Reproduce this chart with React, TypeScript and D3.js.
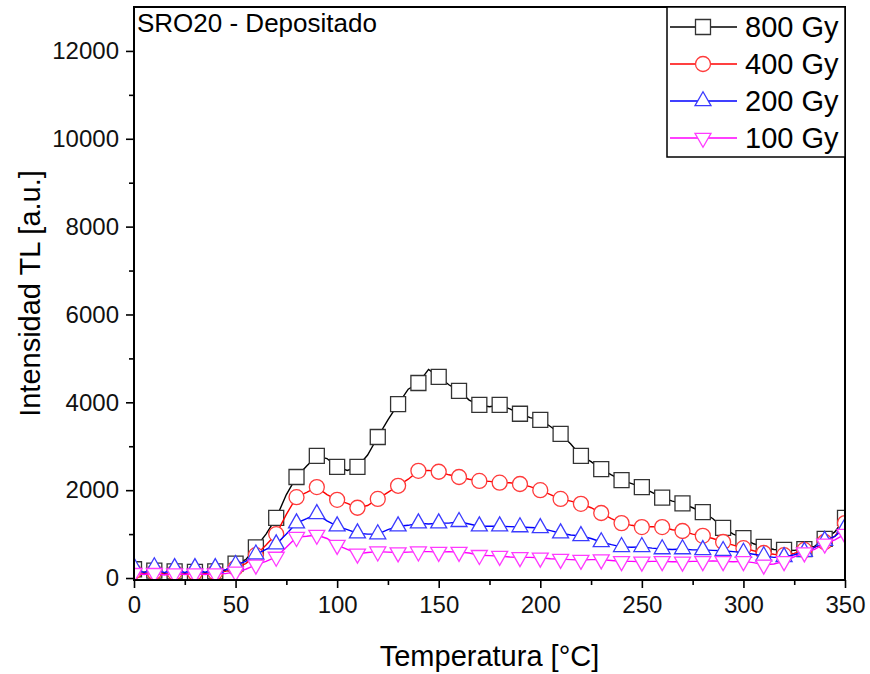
import React, { useRef, useEffect } from "react";
import * as d3 from "d3";

// temperature grid (°C), read every 5 degrees
const temps = [
  0, 5, 10, 15, 20, 25, 30, 35, 40, 45, 50, 55, 60, 65, 70, 75, 80, 85, 90, 95,
  100, 105, 110, 115, 120, 125, 130, 135, 140, 145, 150, 155, 160, 165, 170,
  175, 180, 185, 190, 195, 200, 205, 210, 215, 220, 225, 230, 235, 240, 245,
  250, 255, 260, 265, 270, 275, 280, 285, 290, 295, 300, 305, 310, 315, 320,
  325, 330, 335, 340, 345, 350,
];

const gy800 = [
  200, 130, 170, 110, 150, 110, 140, 120, 150, 180, 330, 420, 700, 1000, 1370,
  1900, 2300, 2550, 2780, 2720, 2530, 2450, 2530, 2800, 3210, 3600, 3960, 4300,
  4440, 4750, 4580, 4400, 4260, 4050, 3940, 3900, 3940, 3850, 3740, 3650, 3600,
  3450, 3280, 3050, 2780, 2650, 2480, 2350, 2230, 2150, 2070, 1950, 1830, 1750,
  1700, 1600, 1500, 1350, 1140, 1000, 910, 780, 710, 650, 640, 630, 660, 720,
  890, 1050, 1370,
];

const gy400 = [
  150, 100, 140, 90, 130, 90, 120, 100, 130, 150, 230, 330, 520, 750, 1000,
  1450, 1840, 1950, 2070, 1900, 1780, 1700, 1600, 1650, 1800, 1950, 2100, 2250,
  2440, 2450, 2420, 2350, 2300, 2250, 2210, 2200, 2170, 2170, 2140, 2080, 2000,
  1900, 1800, 1750, 1690, 1600, 1480, 1350, 1250, 1200, 1160, 1170, 1160, 1100,
  1070, 1000, 960, 900, 820, 750, 680, 620, 570, 540, 520, 560, 640, 700, 820,
  950, 1250,
];

const gy200 = [
  250, 120, 250, 120, 230, 120, 230, 130, 230, 180, 300, 380, 540, 650, 770,
  1000, 1250, 1350, 1460, 1300, 1180, 1100, 1020, 1000, 1000, 1100, 1180, 1200,
  1250, 1230, 1250, 1250, 1280, 1230, 1180, 1180, 1180, 1170, 1160, 1150, 1140,
  1080, 1020, 980, 960, 900, 820, 760, 710, 700, 710, 680, 660, 650, 660, 640,
  640, 630, 620, 600, 580, 540, 500, 470, 480, 530, 600, 700, 850, 950, 1150,
];

const gy100 = [
  110, 80, 110, 70, 100, 80, 100, 80, 100, 100, 140, 200, 300, 380, 480, 700,
  930, 950, 980, 900, 750, 650, 550, 580, 600, 590, 580, 590, 600, 600, 590,
  600, 590, 570, 520, 510, 500, 480, 470, 470, 460, 440, 430, 420, 410, 420,
  420, 400, 380, 380, 370, 380, 380, 370, 370, 380, 380, 390, 380, 370, 380,
  350, 300, 320, 380, 480, 580, 650, 780, 870, 1000,
];

const seriesNames = ["800 Gy", "400 Gy", "200 Gy", "100 Gy"];
const seriesValues = [gy800, gy400, gy200, gy100];
const lineColors = ["#000000", "#ff0000", "#0000ff", "#ff00ff"];
const markColors = ["#333333", "#ff3b3b", "#3b3bff", "#ff3bff"];
const markShapes = ["square", "circle", "up", "down"];

const xTicks = [0, 50, 100, 150, 200, 250, 300, 350];
const yTicks = [0, 2000, 4000, 6000, 8000, 10000, 12000];

const markerPath = (shape: string) => {
  if (shape === "square") return "M-7.5,-7.5H7.5V7.5H-7.5Z";
  if (shape === "circle") return d3.symbol(d3.symbolCircle, Math.PI * 7.5 * 7.5)()!;
  if (shape === "up") return "M0,-9.3L8,4.7L-8,4.7Z";
  return "M0,9.3L8,-4.7L-8,-4.7Z";
};

const App = () => {
  const svgRef = useRef<SVGSVGElement>(null);

  useEffect(() => {
    const svg = d3.select(svgRef.current);
    svg.selectAll("*").remove();

    const width = 870;
    const height = 674;
    const margin = { top: 7, right: 25, bottom: 94, left: 134 };

    const x = d3
      .scaleLinear()
      .domain([0, 350])
      .range([margin.left, width - margin.right]);

    const y = d3
      .scaleLinear()
      .domain([-45, 13000])
      .range([height - margin.bottom, margin.top]);

    const font = "Arial, 'Liberation Sans', sans-serif";

    svg
      .append("rect")
      .attr("width", width)
      .attr("height", height)
      .attr("fill", "white");

    svg
      .append("clipPath")
      .attr("id", "plot-clip")
      .append("rect")
      .attr("x", margin.left)
      .attr("y", margin.top)
      .attr("width", width - margin.left - margin.right)
      .attr("height", height - margin.top - margin.bottom);

    const plot = svg.append("g").attr("clip-path", "url(#plot-clip)");

    // series: line first, then hollow markers every 10 degrees
    seriesValues.forEach((vals, s) => {
      const pts = temps.map((t, i) => ({ t, v: vals[i] }));
      plot
        .append("path")
        .datum(pts)
        .attr("fill", "none")
        .attr("stroke", lineColors[s])
        .attr("stroke-width", 1.4)
        .attr(
          "d",
          d3
            .line<{ t: number; v: number }>()
            .x((d) => x(d.t))
            .y((d) => y(d.v))
        );

      plot
        .selectAll(null)
        .data(pts.filter((d) => d.t % 10 === 0))
        .join("path")
        .attr("transform", (d) => `translate(${x(d.t)},${y(d.v)})`)
        .attr("d", markerPath(markShapes[s]))
        .attr("fill", "white")
        .attr("stroke", markColors[s])
        .attr("stroke-width", 1.3);
    });

    // frame
    svg
      .append("rect")
      .attr("x", margin.left)
      .attr("y", margin.top)
      .attr("width", width - margin.left - margin.right)
      .attr("height", height - margin.top - margin.bottom)
      .attr("fill", "none")
      .attr("stroke", "black")
      .attr("stroke-width", 2);

    // x axis
    const xMinor = svg
      .append("g")
      .attr("transform", `translate(0,${height - margin.bottom})`)
      .call(
        d3
          .axisBottom(x)
          .tickValues(d3.range(25, 350, 50))
          .tickSize(5)
          .tickFormat(() => "")
      );
    xMinor.select(".domain").remove();
    const xMajor = svg
      .append("g")
      .attr("transform", `translate(0,${height - margin.bottom})`)
      .call(d3.axisBottom(x).tickValues(xTicks).tickSize(8).tickPadding(8));
    xMajor.select(".domain").remove();

    // y axis
    const yMinor = svg
      .append("g")
      .attr("transform", `translate(${margin.left},0)`)
      .call(
        d3
          .axisLeft(y)
          .tickValues(d3.range(1000, 13000, 2000))
          .tickSize(5)
          .tickFormat(() => "")
      );
    yMinor.select(".domain").remove();
    const yMajor = svg
      .append("g")
      .attr("transform", `translate(${margin.left},0)`)
      .call(
        d3
          .axisLeft(y)
          .tickValues(yTicks)
          .tickSize(8)
          .tickPadding(7)
          .tickFormat(d3.format("d"))
      );
    yMajor.select(".domain").remove();

    svg
      .selectAll(".tick line")
      .attr("stroke", "black")
      .attr("stroke-width", 1.6);
    svg
      .selectAll(".tick text")
      .attr("font-family", font)
      .attr("font-size", 24)
      .attr("fill", "#111");

    // title in the plot
    svg
      .append("text")
      .attr("x", margin.left + 3)
      .attr("y", 32)
      .attr("font-family", font)
      .attr("font-size", 26)
      .text("SRO20 - Depositado");

    // axis titles
    svg
      .append("text")
      .attr("x", (margin.left + width - margin.right) / 2)
      .attr("y", 666)
      .attr("text-anchor", "middle")
      .attr("font-family", font)
      .attr("font-size", 29)
      .text("Temperatura [°C]");

    svg
      .append("text")
      .attr("transform", `translate(40,${(margin.top + height - margin.bottom) / 2}) rotate(-90)`)
      .attr("text-anchor", "middle")
      .attr("font-family", font)
      .attr("font-size", 29)
      .text("Intensidad TL [a.u.]");

    // legend
    const legend = svg.append("g").attr("transform", "translate(667,7)");
    legend
      .append("rect")
      .attr("width", 178)
      .attr("height", 150)
      .attr("fill", "white")
      .attr("stroke", "black")
      .attr("stroke-width", 1.5);

    seriesNames.forEach((name, s) => {
      const cy = 20 + s * 37;
      legend
        .append("line")
        .attr("x1", 3)
        .attr("x2", 70)
        .attr("y1", cy)
        .attr("y2", cy)
        .attr("stroke", lineColors[s])
        .attr("stroke-width", 1.4);
      legend
        .append("path")
        .attr("transform", `translate(36,${cy})`)
        .attr("d", markerPath(markShapes[s]))
        .attr("fill", "white")
        .attr("stroke", markColors[s])
        .attr("stroke-width", 1.3);
      legend
        .append("text")
        .attr("x", 78)
        .attr("y", cy + 10)
        .attr("font-family", font)
        .attr("font-size", 29)
        .text(name);
    });
  }, []);

  return (
    <svg
      ref={svgRef}
      width="870"
      height="674"
      style={{ position: "absolute", left: 0, top: 0 }}
    />
  );
};

export default App;
